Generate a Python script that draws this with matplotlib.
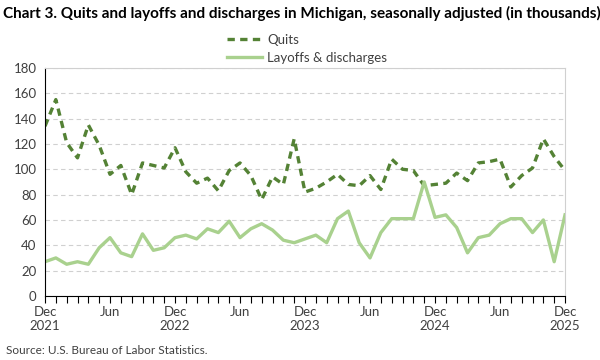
import matplotlib
matplotlib.use("Agg")
import matplotlib.pyplot as plt
import numpy as np

months = ["Dec 2021","Jan 2022","Feb 2022","Mar 2022","Apr 2022","May 2022","Jun 2022","Jul 2022","Aug 2022","Sep 2022","Oct 2022","Nov 2022",
          "Dec 2022","Jan 2023","Feb 2023","Mar 2023","Apr 2023","May 2023","Jun 2023","Jul 2023","Aug 2023","Sep 2023","Oct 2023","Nov 2023",
          "Dec 2023","Jan 2024","Feb 2024","Mar 2024","Apr 2024","May 2024","Jun 2024","Jul 2024","Aug 2024","Sep 2024","Oct 2024","Nov 2024",
          "Dec 2024","Jan 2025","Feb 2025","Mar 2025","Apr 2025","May 2025","Jun 2025","Jul 2025","Aug 2025","Sep 2025","Oct 2025","Nov 2025",
          "Dec 2025"]

quits = [134, 155, 121, 109, 135, 119, 96, 103, 80, 105, 103, 101,
         117, 98, 89, 93, 83, 99, 105, 95, 76, 94, 88, 124,
         82, 85, 90, 96, 88, 87, 95, 84, 108, 100, 99, 87,
         88, 89, 97, 91, 105, 106, 108, 86, 95, 101, 124, 110,
         99]

layoffs = [27, 30, 25, 27, 25, 38, 46, 34, 31, 49, 36, 38,
           46, 48, 45, 53, 50, 59, 46, 53, 57, 52, 44, 42,
           45, 48, 42, 61, 67, 42, 30, 50, 61, 61, 61, 90,
           62, 64, 54, 34, 46, 48, 57, 61, 61, 50, 60, 27,
           64]

tick_labels = ["Dec\n2021", "Jun", "Dec\n2022", "Jun", "Dec\n2023", "Jun", "Dec\n2024", "Jun", "Dec\n2025"]

plt.rcParams['font.family'] = ['Lato', 'DejaVu Sans']

fig = plt.figure(figsize=(6, 3.6), dpi=100)
ax = fig.add_axes([0.075, 0.178, 0.8667, 0.6333])

x = np.arange(len(months))
ax.plot(x, quits, color="#548235", lw=2.4, ls=(0, (2.2, 1.6)), label="Quits")
ax.plot(x, layoffs, color="#A9D18E", lw=2.4, label="Layoffs & discharges")

ax.set_xlim(0, len(months) - 1)
ax.set_ylim(0, 180)
ax.set_yticks(np.arange(0, 181, 20))
ax.set_xticks(np.arange(0, len(months), 6))
ax.set_xticklabels(tick_labels)
ax.set_xticks(x, minor=True)
ax.tick_params(axis='x', which='both', direction='out', length=5, color='black', width=0.8, labelsize=9.5, labelcolor='#404040', pad=2)
ax.tick_params(axis='y', length=0, labelsize=9.5, labelcolor='#404040', pad=6)

ax.grid(axis='y', color='#D0D0D0', ls=(0, (4, 3)), lw=0.8)
ax.set_axisbelow(True)
for s in ['top', 'right']:
    ax.spines[s].set_color('#D0D0D0')
    ax.spines[s].set_linewidth(0.8)
for s in ['left', 'bottom']:
    ax.spines[s].set_color('black')
    ax.spines[s].set_linewidth(0.8)

fig.legend(loc='upper center', bbox_to_anchor=(0.512, 0.925), ncol=1, frameon=False,
           fontsize=9.5, handlelength=2.6, labelspacing=0.45, borderpad=0, handletextpad=0.4,
           labelcolor='#404040')

fig.text(0.005, 0.962, "Chart 3. Quits and layoffs and discharges in Michigan, seasonally adjusted (in thousands)",
         fontsize=11, fontweight='bold', ha='left', va='center', color='black')
fig.text(0.01, 0.025, "Source: U.S. Bureau of Labor Statistics.", fontsize=8.5, ha='left', va='center', color='#404040')

fig.savefig("out.png", dpi=100)
